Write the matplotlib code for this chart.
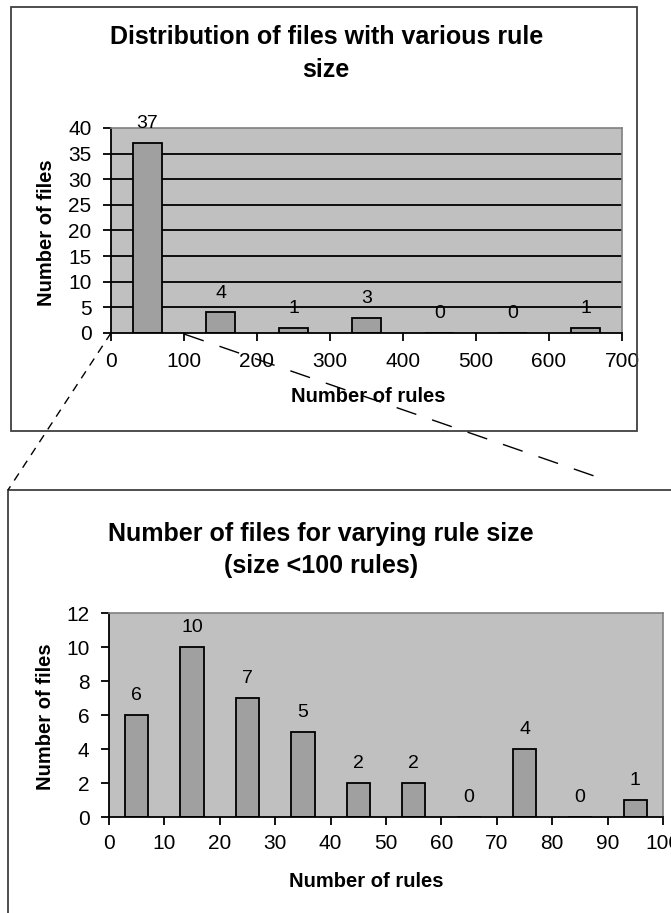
import matplotlib
matplotlib.use("Agg")
import matplotlib.pyplot as plt
from matplotlib.patches import Rectangle
from matplotlib.lines import Line2D

plt.rcParams["font.family"] = ["Liberation Sans", "DejaVu Sans"]

# data
top_bins = [50, 150, 250, 350, 450, 550, 650]
top_counts = [37, 4, 1, 3, 0, 0, 1]
top_xticks = [0, 100, 200, 300, 400, 500, 600, 700]
top_yticks = [0, 5, 10, 15, 20, 25, 30, 35, 40]

low_bins = [5, 15, 25, 35, 45, 55, 65, 75, 85, 95]
low_counts = [6, 10, 7, 5, 2, 2, 0, 4, 0, 1]
low_xticks = [0, 10, 20, 30, 40, 50, 60, 70, 80, 90, 100]
low_yticks = [0, 2, 4, 6, 8, 10, 12]

W, H = 671, 913
fig = plt.figure(figsize=(W / 100, H / 100), dpi=100)


def px(x0, y0, x1, y1):
    # pixel box -> figure fraction [left, bottom, width, height]
    return [x0 / W, 1 - y1 / H, (x1 - x0) / W, (y1 - y0) / H]


def fx(x):
    return x / W


def fy(y):
    return 1 - y / H


# outer chart frames
fig.patches.append(Rectangle((fx(11), fy(431)), (637 - 11) / W, (431 - 7) / H,
                             transform=fig.transFigure, fill=False,
                             edgecolor="#404040", linewidth=1.3, zorder=0))
fig.patches.append(Rectangle((fx(8), fy(930)), (700 - 8) / W, (930 - 490) / H,
                             transform=fig.transFigure, fill=False,
                             edgecolor="#404040", linewidth=1.3, zorder=0))

bg = "#c0c0c0"
barc = "#a0a0a0"


def style_axes(ax, xticks, yticks, xpad, ypad):
    ax.set_facecolor(bg)
    for s in ["top", "right"]:
        ax.spines[s].set_color("#808080")
        ax.spines[s].set_linewidth(1.2)
    for s in ["left", "bottom"]:
        ax.spines[s].set_color("black")
        ax.spines[s].set_linewidth(1.3)
    ax.set_xticks(xticks)
    ax.set_yticks(yticks)
    ax.tick_params(axis="x", direction="out", length=6, width=1.3, pad=xpad, labelsize=15)
    ax.tick_params(axis="y", direction="out", length=6, width=1.3, pad=ypad, labelsize=15)


# ---- top chart
ax1 = fig.add_axes(px(111, 128, 622, 333))
style_axes(ax1, top_xticks, top_yticks, 8, 8)
ax1.set_xlim(0, 700)
ax1.set_ylim(0, 40)
for g in top_yticks[1:-1]:
    ax1.axhline(g, color="black", linewidth=1.3, zorder=1)
ax1.bar(top_bins, top_counts, width=41, color=barc, edgecolor="black",
        linewidth=1.3, zorder=2)
for xb, v in zip(top_bins, top_counts):
    ax1.annotate(str(v), (xb, v), xytext=(0, 14), textcoords="offset points",
                 ha="center", va="center", fontsize=14, annotation_clip=False)

fig.text(fx(327), fy(37), "Distribution of files with various rule",
         ha="center", va="center", fontsize=18, fontweight="bold")
fig.text(fx(326), fy(70), "size", ha="center", va="center",
         fontsize=18, fontweight="bold")
fig.text(fx(47), fy(233), "Number of files", rotation=90, ha="center",
         va="center", fontsize=14.5, fontweight="bold")
fig.text(fx(368), fy(397), "Number of rules", ha="center", va="center",
         fontsize=14.5, fontweight="bold")

# ---- bottom chart
ax2 = fig.add_axes(px(109, 613, 663, 817))
style_axes(ax2, low_xticks, low_yticks, 6, 8)
ax2.set_xlim(0, 100)
ax2.set_ylim(0, 12)
ax2.bar(low_bins, low_counts, width=4.2, color=barc, edgecolor="black",
        linewidth=1.3, zorder=2)
for xb, v in zip(low_bins, low_counts):
    ax2.annotate(str(v), (xb, v), xytext=(0, 14), textcoords="offset points",
                 ha="center", va="center", fontsize=14, annotation_clip=False)

fig.text(fx(321), fy(534), "Number of files for varying rule size",
         ha="center", va="center", fontsize=18, fontweight="bold")
fig.text(fx(321), fy(566), "(size <100 rules)", ha="center", va="center",
         fontsize=18, fontweight="bold")
fig.text(fx(46), fy(717), "Number of files", rotation=90, ha="center",
         va="center", fontsize=14.5, fontweight="bold")
fig.text(fx(366), fy(881), "Number of rules", ha="center", va="center",
         fontsize=14.5, fontweight="bold")

# zoom guide lines between the charts
fig.add_artist(Line2D([fx(111), fx(8)], [fy(333), fy(490)], transform=fig.transFigure,
                      color="black", linewidth=1, dashes=(6, 5)))
fig.add_artist(Line2D([fx(184), fx(600)], [fy(334), fy(478)], transform=fig.transFigure,
                      color="black", linewidth=1, dashes=(15, 12)))

fig.savefig("out.png", dpi=100)
